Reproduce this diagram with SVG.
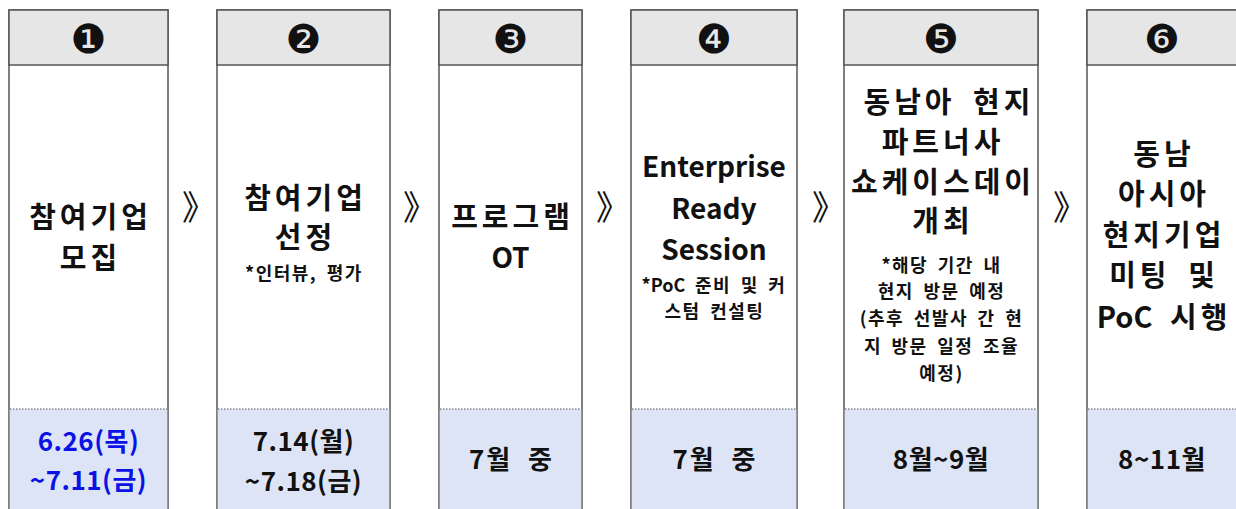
<svg xmlns="http://www.w3.org/2000/svg" width="1236" height="509" viewBox="0 0 1236 509">
<style>
.col{fill:#ffffff;stroke:#555555;stroke-width:1.5}
.hd{fill:#e6e6e6;stroke:#555555;stroke-width:1.5}
.dt{fill:#dde4f6;stroke:none}
.dl{stroke:#555555;stroke-width:1.2;stroke-dasharray:1.5 1.5}
text{font-family:"Noto Sans CJK KR","Liberation Sans",sans-serif;font-weight:bold;fill:#111111;text-anchor:middle}
.num{font-size:40px;font-weight:normal;font-family:"DejaVu Sans","Noto Sans CJK KR",sans-serif}
.m{font-size:29px;letter-spacing:4px;word-spacing:7px}
.e{font-size:28px}
.s{font-size:18px;letter-spacing:1.5px;word-spacing:4px}
.d{font-size:26px;letter-spacing:0.5px}
.dw{font-size:26px;letter-spacing:2px;word-spacing:8px}
.ls0{letter-spacing:0}
.blue{fill:#0a12e6}
.arr{font-size:34px;font-weight:normal}
</style>
<g id="node1">
<rect class="col" x="9" y="10" width="159" height="510"/>
<rect class="dt" x="9.75" y="409" width="157.5" height="110"/>
<rect class="hd" x="9" y="10" width="159" height="55"/>
<line class="dl" x1="10" y1="409" x2="167" y2="409"/>
<text class="num" x="88.5" y="53">❶</text>
<text class="m" x="90.5" y="228">참여기업</text>
<text class="m" x="90.5" y="269">모집</text>
<text class="d blue" x="88.5" y="451">6.26(목)</text>
<text class="d blue" x="88.5" y="490">~7.11(금)</text>
</g>
<g id="node2">
<rect class="col" x="217" y="10" width="173" height="510"/>
<rect class="dt" x="217.75" y="409" width="171.5" height="110"/>
<rect class="hd" x="217" y="10" width="173" height="55"/>
<line class="dl" x1="218" y1="409" x2="389" y2="409"/>
<text class="num" x="303.5" y="53">❷</text>
<text class="m" x="305.5" y="209">참여기업</text>
<text class="m" x="305.5" y="248">선정</text>
<text class="s" x="304" y="280">*인터뷰, 평가</text>
<text class="d" x="303.5" y="451">7.14(월)</text>
<text class="d" x="303.5" y="491">~7.18(금)</text>
</g>
<g id="node3">
<rect class="col" x="439" y="10" width="143" height="510"/>
<rect class="dt" x="439.75" y="409" width="141.5" height="110"/>
<rect class="hd" x="439" y="10" width="143" height="55"/>
<line class="dl" x1="440" y1="409" x2="581" y2="409"/>
<text class="num" x="510.5" y="53">❸</text>
<text class="m" x="512.5" y="228">프로그램</text>
<text class="e" x="510.5" y="268">OT</text>
<text class="dw" x="511.5" y="469">7월 중</text>
</g>
<g id="node4">
<rect class="col" x="631" y="10" width="166" height="510"/>
<rect class="dt" x="631.75" y="409" width="164.5" height="110"/>
<rect class="hd" x="631" y="10" width="166" height="55"/>
<line class="dl" x1="632" y1="409" x2="796" y2="409"/>
<text class="num" x="714" y="53">❹</text>
<text class="e" x="714" y="177">Enterprise</text>
<text class="e" x="714" y="219">Ready</text>
<text class="e" x="714" y="260">Session</text>
<text class="s" x="714" y="292"><tspan class="ls0">*PoC</tspan> 준비 및 커</text>
<text class="s" x="714.5" y="318">스텀 컨설팅</text>
<text class="dw" x="715" y="469">7월 중</text>
</g>
<g id="node5">
<rect class="col" x="844" y="10" width="194" height="510"/>
<rect class="dt" x="844.75" y="409" width="192.5" height="110"/>
<rect class="hd" x="844" y="10" width="194" height="55"/>
<line class="dl" x1="845" y1="409" x2="1037" y2="409"/>
<text class="num" x="941" y="53">❺</text>
<text class="m" x="949" y="113">동남아 현지</text>
<text class="m" x="943" y="153">파트너사</text>
<text class="m" x="943" y="193">쇼케이스데이</text>
<text class="m" x="943" y="232">개최</text>
<text class="s" x="941.5" y="272">*해당 기간 내</text>
<text class="s" x="941.5" y="298">현지 방문 예정</text>
<text class="s" x="941.5" y="325">(추후 선발사 간 현</text>
<text class="s" x="941.5" y="353">지 방문 일정 조율</text>
<text class="s" x="941.5" y="380">예정)</text>
<text class="d" x="941" y="469">8월~9월</text>
</g>
<g id="node6">
<rect class="col" x="1087" y="10" width="170" height="510"/>
<rect class="dt" x="1087.75" y="409" width="168.5" height="110"/>
<rect class="hd" x="1087" y="10" width="170" height="55"/>
<line class="dl" x1="1088" y1="409" x2="1256" y2="409"/>
<text class="num" x="1162" y="53">❻</text>
<text class="m" x="1164" y="165">동남</text>
<text class="m" x="1164" y="205">아시아</text>
<text class="m" x="1164" y="246">현지기업</text>
<text class="m" x="1164" y="286">미팅 및</text>
<text class="m" x="1164" y="328"><tspan class="ls0">PoC</tspan> 시행</text>
<text class="d" x="1162" y="469">8~11월</text>
</g>
<g id="connectors">
<text class="arr" x="199" y="220">》</text>
<text class="arr" x="420" y="220">》</text>
<text class="arr" x="613" y="220">》</text>
<text class="arr" x="829" y="220">》</text>
<text class="arr" x="1070" y="220">》</text>
</g>
</svg>
